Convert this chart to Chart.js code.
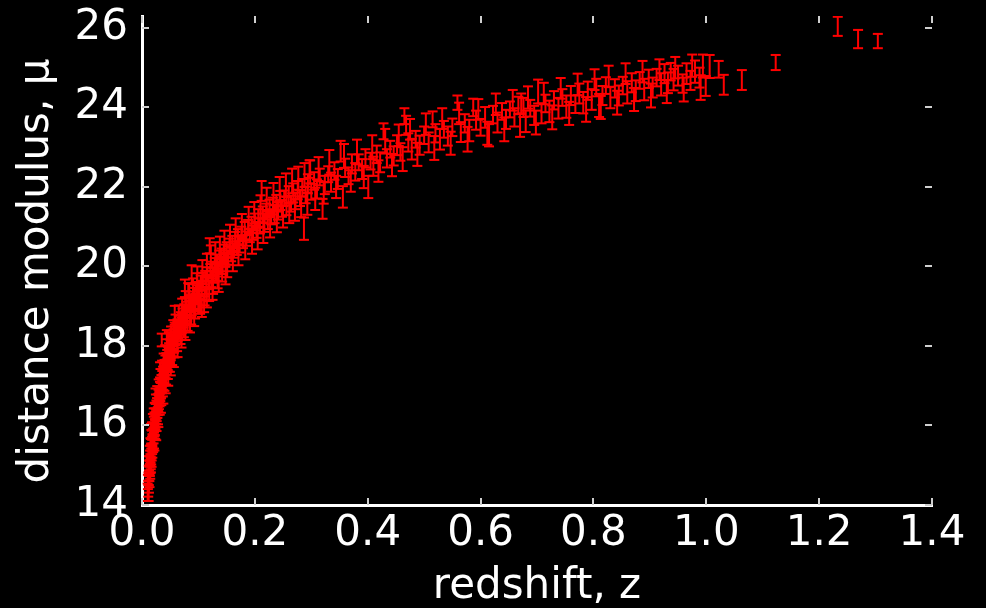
<!DOCTYPE html>
<html>
<head>
<meta charset="utf-8">
<script src="https://cdn.jsdelivr.net/npm/chart.js@4"></script>
<style>
  html, body { margin: 0; padding: 0; background: #000; }
  #wrap { width: 986px; height: 608px; }
</style>
</head>
<body>
<div id="wrap"><canvas id="c" width="986" height="608"></canvas></div>
<script>
// Supernova Hubble diagram: redshift, distance modulus and its 1-sigma error
const redshift = [
  0.0100,0.0105,0.0110,0.0115,0.0120,0.0123,0.0128,0.0131,0.0135,0.0140,
  0.0143,0.0148,0.0152,0.0155,0.0160,0.0163,0.0168,0.0172,0.0176,0.0180,
  0.0185,0.0190,0.0195,0.0200,0.0205,0.0210,0.0216,0.0221,0.0227,0.0232,
  0.0238,0.0243,0.0249,0.0255,0.0261,0.0267,0.0273,0.0280,0.0286,0.0293,
  0.0300,
  0.0305,0.0312,0.0318,0.0325,0.0331,0.0338,0.0345,0.0350,0.0352,0.0360,
  0.0366,0.0372,0.0380,0.0387,0.0394,0.0400,0.0408,0.0415,0.0423,0.0430,
  0.0438,0.0446,0.0455,0.0463,0.0472,0.0480,0.0490,0.0500,0.0510,0.0520,
  0.0530,0.0540,0.0550,0.0560,0.0570,0.0580,0.0590,0.0600,
  0.0615,0.0630,0.0645,0.0660,0.0675,0.0690,0.0705,0.0720,0.0735,0.0750,
  0.0768,0.0785,0.0800,0.0820,0.0830,0.0848,0.0865,0.0880,0.0898,0.0915,
  0.0930,0.0950,0.0968,0.0980,0.0985,0.1000,
  0.102,0.104,0.106,0.108,0.110,0.112,0.114,0.116,0.118,0.120,
  0.121,0.123,0.125,0.127,0.129,0.131,0.133,0.135,0.137,0.139,
  0.141,0.143,0.145,0.148,0.150,0.153,0.155,0.158,0.160,0.163,
  0.165,0.168,0.170,0.173,0.176,0.179,0.182,0.185,0.188,0.191,
  0.194,0.197,0.200,
  0.203,0.206,0.209,0.212,0.214,0.217,0.220,0.223,0.226,0.229,
  0.232,0.235,0.238,0.241,0.245,0.248,0.252,0.256,0.260,0.264,
  0.268,0.272,0.276,0.280,0.284,0.287,0.290,0.294,0.297,0.300,
  0.305,0.310,0.315,0.320,0.324,0.330,0.335,0.341,0.347,0.352,
  0.356,0.360,0.366,0.372,0.378,0.384,0.390,0.396,0.401,0.405,
  0.410,0.416,0.422,0.428,0.434,0.440,0.446,
  0.452,0.458,0.465,0.468,0.472,0.478,0.485,0.492,0.500,0.508,
  0.515,0.520,0.528,0.535,0.542,0.550,0.559,0.565,0.572,0.580,
  0.587,0.592,0.600,0.608,0.615,0.622,0.630,0.638,0.645,0.652,
  0.660,0.667,0.672,0.676,0.680,0.688,0.695,
  0.702,0.708,0.715,0.722,0.730,0.738,0.745,0.752,0.760,0.768,
  0.775,0.782,0.790,0.797,0.805,0.810,0.816,0.822,0.830,0.838,
  0.845,0.852,0.860,0.868,0.875,0.882,0.890,0.898,0.905,0.912,
  0.920,0.926,0.932,0.937,0.942,0.950,0.958,0.965,0.972,0.980,
  0.988,0.994,0.999,1.006,1.022,1.031,1.063,1.123,1.233,1.269,
  1.304,
  0.0118,0.0125,0.0133,0.0138,0.0146,0.0150,0.0158,0.0166,0.0170,0.0178,
  0.0183,0.0193,0.0198,0.0208,0.0213,0.0225,0.0235,0.0247,0.0258,0.0270,
  0.0283,0.0296,
  0.0315,0.0328,0.0342,0.0356,0.0370,0.0384,0.0397,0.0412,0.0427,0.0442,
  0.0458,0.0476,0.0494,0.0515,0.0535,0.0555,0.0575,0.0595,
  0.0622,0.0652,0.0682,0.0712,0.0742,0.0775,0.0808,0.0838,0.0872,0.0905,
  0.0940,0.0975,0.0995,
  0.103,0.107,0.111,0.115,0.119,0.122,0.126,0.130,0.134,0.138,
  0.142,0.146,0.151,0.156,0.161,0.166,0.171,0.177,0.183,0.189,
  0.195,0.199,
  0.205,0.210,0.215,0.221,0.227,0.233,0.239,0.244,0.250,0.255,
  0.261,0.266,0.271,0.277,0.282,0.288,0.293,0.298,
  0.307,0.313,0.322,0.332,0.344,0.358,0.370,0.381,0.393,0.408,
  0.419,0.431,0.443,
  0.455,0.462,0.475,0.488,0.503,0.518,0.532,0.547,0.562,0.577,
  0.596,0.612,0.627,0.642,0.657,0.670,0.684,0.698,
  0.712,0.727,0.742,0.757,0.772,0.787,0.802,0.813,0.827,0.842,
  0.857,0.872,0.887,0.902,0.917,0.930,0.945,0.960,0.975,0.990,
  0.0220,0.0252,0.0290,0.0335,0.0378,0.0420,0.0465,0.0510,0.0565,0.0630,
  0.0700,0.0770,0.0850,0.0925,0.1060,0.1150,0.1250,0.1360,0.1480,0.0160,
  0.0240,0.0320,0.0440,0.0580,0.0760,0.0880
];

const distModulus = [
  14.32,14.58,14.41,14.66,14.80,14.52,14.95,14.78,15.02,14.88,
  15.18,14.97,15.28,15.06,15.35,15.22,15.52,15.31,15.70,15.46,
  15.62,15.85,15.58,15.92,15.74,16.05,15.88,16.15,15.96,16.28,
  16.08,16.35,16.20,16.45,16.26,16.52,16.38,16.62,16.44,16.75,
  16.58,
  16.82,16.66,16.95,16.78,17.02,16.88,17.12,18.15,16.98,17.22,
  17.08,17.32,17.15,17.40,17.25,17.50,17.33,17.58,17.42,17.65,
  17.50,17.75,17.58,17.82,17.66,17.92,17.75,18.00,17.84,18.08,
  17.92,18.15,18.02,18.25,18.08,18.35,18.18,18.40,
  18.28,18.52,18.36,18.60,18.45,18.70,18.52,18.78,18.62,18.88,
  18.70,18.95,18.78,19.40,19.02,18.86,19.12,18.95,19.22,19.05,
  19.30,19.12,19.38,19.80,19.22,19.45,
  19.32,19.58,19.40,19.66,19.05,19.72,19.52,19.80,19.60,20.52,
  19.88,19.68,19.95,19.78,20.05,19.85,20.12,19.92,20.20,20.00,
  20.28,20.06,20.34,20.15,20.42,20.22,20.50,20.30,20.58,20.40,
  20.66,20.46,20.75,20.55,20.82,20.62,20.90,20.70,20.98,20.78,
  21.05,20.85,21.12,
  20.92,21.22,21.02,21.90,21.30,21.10,21.38,21.18,21.46,21.25,
  21.52,21.32,21.60,21.40,21.66,21.46,21.72,21.52,21.80,21.58,
  21.85,21.65,21.92,21.72,21.98,20.95,21.80,22.08,22.45,21.88,
  22.15,21.95,22.25,21.45,22.05,22.32,22.12,22.40,22.20,22.90,
  21.75,22.48,22.28,22.58,22.38,22.62,22.45,22.72,22.00,22.65,
  22.52,22.82,22.62,23.40,22.72,22.95,22.78,
  23.05,22.88,23.78,23.55,23.12,22.95,23.20,23.05,23.30,23.12,
  23.70,23.35,23.20,23.45,23.28,23.50,24.12,23.38,23.60,23.42,
  24.00,23.68,23.50,23.75,23.30,23.82,23.62,23.90,23.70,23.95,
  23.75,24.05,24.10,24.00,23.65,23.98,23.80,
  24.40,23.85,24.10,23.90,24.18,23.98,24.25,24.02,24.30,24.08,
  24.35,24.12,24.42,24.20,24.50,24.05,24.30,24.55,24.25,24.48,
  24.30,24.55,24.38,24.62,24.42,24.68,24.45,24.72,24.50,24.75,
  24.58,24.85,24.62,24.90,24.70,24.80,24.60,24.85,24.68,24.90,
  24.75,25.04,24.54,25.03,24.96,24.57,24.69,25.13,26.04,25.72,
  25.67,
  14.30,15.05,14.62,15.30,14.82,15.48,15.00,15.72,15.15,15.90,
  15.35,16.10,15.50,16.25,15.62,16.40,15.85,16.60,16.02,16.80,
  16.20,16.98,
  16.45,17.25,16.70,17.45,16.90,17.62,17.05,17.82,17.20,17.98,
  17.35,18.15,17.52,18.30,17.70,18.45,17.88,18.60,
  18.05,18.82,18.22,19.00,18.40,19.18,18.55,19.35,18.72,19.50,
  18.88,19.62,19.00,
  19.05,19.90,19.25,20.05,19.38,20.25,19.55,20.35,19.70,20.48,
  19.85,20.62,19.98,20.78,20.12,20.92,20.28,21.05,20.42,21.22,
  20.58,21.35,
  20.70,21.50,20.85,21.68,21.00,21.82,21.12,21.95,21.25,22.05,
  21.35,22.15,21.42,22.22,21.50,22.30,21.58,22.38,
  21.70,22.45,21.85,22.62,22.00,22.78,22.15,22.88,22.25,23.00,
  22.40,23.15,22.55,
  23.30,22.70,23.45,22.82,23.58,22.98,23.72,23.10,23.85,23.20,
  23.95,23.35,24.08,23.45,24.18,23.55,24.25,23.62,
  24.35,23.75,24.48,23.85,24.58,23.95,24.70,24.00,24.78,24.12,
  24.85,24.20,24.90,24.30,24.95,24.40,25.00,24.45,25.05,24.50,
  15.55,15.80,16.15,16.50,16.72,17.00,17.18,17.45,17.65,17.92,
  18.15,18.35,18.55,18.70,18.95,19.20,19.40,19.60,19.80,15.85,
  16.75,17.40,18.20,18.80,19.45,19.80
];

const distModulusErr = [
  0.22,0.18,0.20,0.16,0.19,0.21,0.17,0.18,0.20,0.15,
  0.19,0.17,0.21,0.16,0.18,0.20,0.15,0.19,0.17,0.18,
  0.16,0.20,0.18,0.15,0.19,0.17,0.16,0.18,0.20,0.15,
  0.17,0.19,0.16,0.18,0.15,0.17,0.19,0.16,0.18,0.15,
  0.17,
  0.16,0.18,0.15,0.17,0.16,0.19,0.15,0.16,0.17,0.15,
  0.18,0.16,0.15,0.17,0.19,0.15,0.16,0.18,0.15,0.17,
  0.16,0.15,0.18,0.16,0.17,0.15,0.19,0.16,0.15,0.17,
  0.18,0.15,0.16,0.17,0.15,0.18,0.16,0.15,
  0.16,0.15,0.18,0.16,0.17,0.15,0.19,0.16,0.15,0.17,
  0.18,0.16,0.15,0.18,0.17,0.15,0.16,0.18,0.15,0.17,
  0.16,0.19,0.15,0.20,0.17,0.16,
  0.17,0.19,0.16,0.18,0.20,0.17,0.21,0.18,0.16,0.19,
  0.18,0.20,0.17,0.19,0.16,0.21,0.18,0.17,0.20,0.19,
  0.17,0.18,0.21,0.16,0.19,0.18,0.20,0.17,0.19,0.18,
  0.21,0.17,0.19,0.20,0.18,0.16,0.22,0.18,0.19,0.17,
  0.20,0.18,0.21,
  0.20,0.22,0.19,0.25,0.21,0.23,0.20,0.24,0.22,0.19,
  0.21,0.23,0.20,0.22,0.24,0.21,0.19,0.23,0.22,0.20,
  0.24,0.21,0.23,0.20,0.22,0.28,0.21,0.24,0.22,0.20,
  0.22,0.24,0.21,0.25,0.23,0.20,0.24,0.22,0.25,0.26,
  0.27,0.23,0.21,0.24,0.22,0.20,0.25,0.23,0.28,0.21,
  0.24,0.22,0.25,0.20,0.23,0.21,0.24,
  0.25,0.22,0.20,0.24,0.23,0.26,0.21,0.24,0.22,0.25,
  0.20,0.23,0.26,0.21,0.24,0.22,0.18,0.25,0.23,0.27,
  0.22,0.24,0.21,0.26,0.28,0.22,0.25,0.21,0.24,0.20,
  0.23,0.22,0.25,0.24,0.27,0.21,0.24,
  0.30,0.25,0.22,0.27,0.23,0.26,0.21,0.28,0.24,0.22,
  0.25,0.27,0.23,0.26,0.22,0.29,0.24,0.21,0.27,0.23,
  0.25,0.22,0.28,0.24,0.26,0.21,0.27,0.23,0.25,0.22,
  0.28,0.24,0.26,0.22,0.27,0.25,0.23,0.26,0.24,0.28,
  0.25,0.29,0.25,0.29,0.21,0.25,0.25,0.19,0.24,0.23,
  0.18,
  0.20,0.18,0.17,0.19,0.16,0.20,0.18,0.17,0.19,0.18,
  0.16,0.19,0.17,0.18,0.20,0.17,0.19,0.18,0.16,0.19,
  0.17,0.18,
  0.18,0.17,0.19,0.18,0.17,0.19,0.18,0.20,0.17,0.19,
  0.18,0.20,0.17,0.19,0.18,0.20,0.17,0.19,
  0.18,0.20,0.17,0.19,0.18,0.20,0.17,0.21,0.18,0.20,
  0.19,0.21,0.18,
  0.24,0.26,0.23,0.27,0.25,0.28,0.24,0.26,0.25,0.27,
  0.23,0.28,0.25,0.27,0.24,0.29,0.25,0.27,0.24,0.28,
  0.26,0.27,
  0.27,0.29,0.26,0.30,0.27,0.28,0.26,0.30,0.27,0.29,
  0.26,0.31,0.27,0.29,0.26,0.30,0.28,0.29,
  0.28,0.30,0.27,0.31,0.28,0.30,0.27,0.31,0.28,0.30,
  0.27,0.31,0.28,
  0.27,0.30,0.26,0.29,0.27,0.30,0.26,0.29,0.27,0.31,
  0.26,0.29,0.27,0.30,0.26,0.29,0.28,0.30,
  0.27,0.30,0.26,0.29,0.27,0.31,0.26,0.29,0.27,0.30,
  0.26,0.29,0.27,0.30,0.26,0.29,0.27,0.30,0.28,0.31,
  0.18,0.17,0.19,0.18,0.17,0.19,0.18,0.19,0.18,0.20,
  0.19,0.20,0.21,0.20,0.22,0.23,0.24,0.24,0.25,0.19,
  0.18,0.19,0.20,0.21,0.22,0.23
];

const xTickValues = [0.0, 0.2, 0.4, 0.6, 0.8, 1.0, 1.2, 1.4];
const yTickValues = [14, 16, 18, 20, 22, 24, 26];
const xAxisLabel = 'redshift, z';
// trailing en space nudges the rotated label's glyphs down a little
const yAxisLabel = 'distance modulus, \u03bc\u2002';

// Error bar stems (low -> high, then a gap) and the caps at both ends
const stems = [];
const caps = [];
redshift.forEach((z, i) => {
  const lo = distModulus[i] - distModulusErr[i];
  const hi = distModulus[i] + distModulusErr[i];
  stems.push({ x: z, y: lo }, { x: z, y: hi }, { x: z, y: null });
  caps.push({ x: z, y: lo }, { x: z, y: hi });
});

// Short tick marks pointing into the plot on all four sides
const innerTicks = {
  id: 'innerTicks',
  afterDraw(chart) {
    const { ctx, chartArea: { left, right, top, bottom }, scales: { x, y } } = chart;
    const len = 7;
    ctx.save();
    ctx.strokeStyle = '#cfcfcf';
    ctx.lineWidth = 2;
    ctx.beginPath();
    x.ticks.forEach(t => {
      const px = Math.round(x.getPixelForValue(t.value));
      ctx.moveTo(px, bottom); ctx.lineTo(px, bottom - len);
      ctx.moveTo(px, top); ctx.lineTo(px, top + len);
    });
    y.ticks.forEach(t => {
      const py = Math.round(y.getPixelForValue(t.value));
      ctx.moveTo(left, py); ctx.lineTo(left + len, py);
      ctx.moveTo(right, py); ctx.lineTo(right - len, py);
    });
    ctx.stroke();
    ctx.restore();
  }
};

Chart.defaults.font.family = '"DejaVu Sans", sans-serif';
Chart.defaults.color = '#ffffff';

new Chart(document.getElementById('c'), {
  type: 'scatter',
  data: {
    datasets: [
      {
        type: 'line',
        data: stems,
        borderColor: '#ff0000',
        borderWidth: 2,
        pointRadius: 0,
        spanGaps: false,
        fill: false
      },
      {
        type: 'scatter',
        data: caps,
        pointStyle: 'line',
        pointRadius: 5,
        borderColor: '#ff0000',
        borderWidth: 2,
        showLine: false
      }
    ]
  },
  options: {
    responsive: false,
    animation: false,
    events: [],
    layout: { padding: { top: 16, right: 54, bottom: 0, left: 0 } },
    plugins: { legend: { display: false }, tooltip: { enabled: false } },
    scales: {
      x: {
        type: 'linear',
        min: 0,
        max: 1.4,
        afterBuildTicks: s => { s.ticks = xTickValues.map(v => ({ value: v })); },
        afterFit: s => { s.height = 103; s.paddingLeft = 0; s.paddingRight = 0; },
        grid: { display: false, drawTicks: false },
        border: { display: true, color: '#ffffff', width: 3 },
        ticks: {
          color: '#ffffff', font: { size: 42 }, padding: 4,
          maxRotation: 0, autoSkip: false,
          callback: v => Number(v).toFixed(1)
        },
        title: {
          display: true, text: xAxisLabel, color: '#ffffff',
          font: { size: 42, lineHeight: 1 }, padding: { top: 0, bottom: 0 }
        }
      },
      y: {
        type: 'linear',
        min: 14,
        max: 26.3,
        afterBuildTicks: s => { s.ticks = yTickValues.map(v => ({ value: v })); },
        afterFit: s => { s.width = 142; s.paddingTop = 0; s.paddingBottom = 0; },
        grid: { display: false, drawTicks: false },
        border: { display: true, color: '#ffffff', width: 3 },
        ticks: { color: '#ffffff', font: { size: 42 }, padding: 14, autoSkip: false },
        title: {
          display: true, text: yAxisLabel, color: '#ffffff',
          font: { size: 42, lineHeight: 1 }, padding: { top: 16, bottom: 0 }
        }
      }
    }
  },
  plugins: [innerTicks]
});
</script>
</body>
</html>
